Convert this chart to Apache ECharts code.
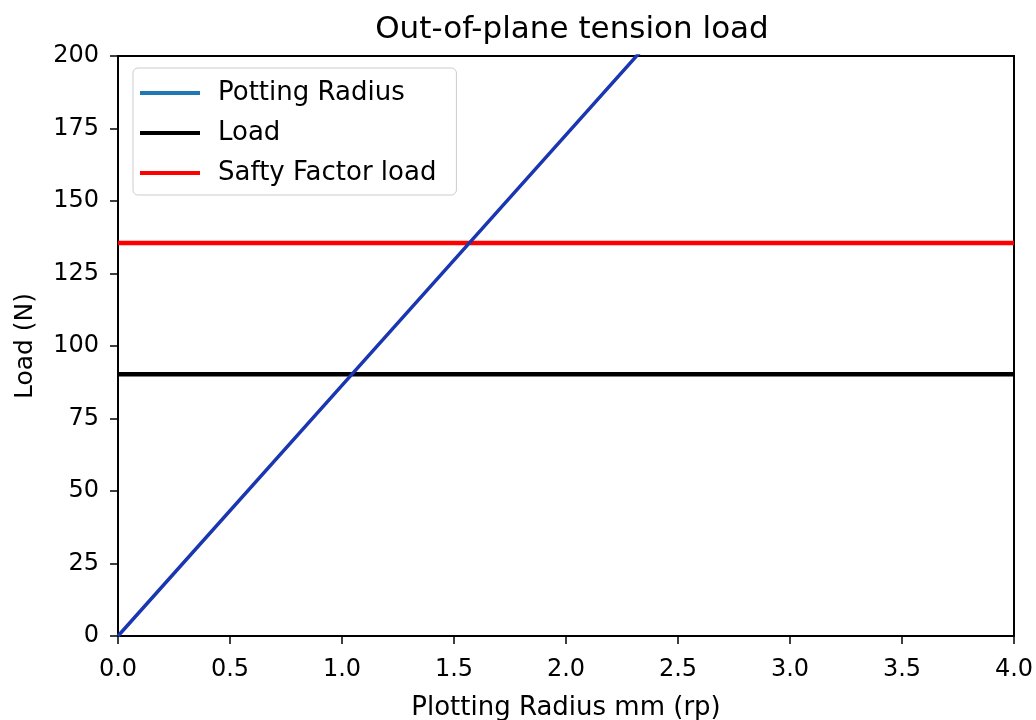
<!DOCTYPE html>
<html>
<head>
<meta charset="utf-8">
<script src="https://cdn.jsdelivr.net/npm/echarts@6/dist/echarts.min.js"></script>
<style>html,body{margin:0;padding:0;background:#fff;}#chart{width:1036px;height:720px;}</style>
</head>
<body>
<div id="chart"></div>
<script>
// Data
const radius = [0, 1, 2, 3, 4];                    // mm
const pottingLoad = [0, 86.4, 172.8, 259.2, 345.6]; // N
const loadX = [0, 4];
const loadValue = [90.3, 90.3];
const sfLoadValue = [135.5, 135.5];
const seriesNames = ['Potting Radius', 'Load', 'Safty Factor load'];

const FONT = '"DejaVu Sans", sans-serif';
const zip = (xs, ys) => xs.map((x, i) => [x, ys[i]]);

const chart = echarts.init(document.getElementById('chart'));
chart.setOption({
  animation: false,
  backgroundColor: '#fff',
  title: {
    text: 'Out-of-plane tension load',
    left: 567, textAlign: 'center', top: 9,
    textStyle: { fontFamily: FONT, fontSize: 31, fontWeight: 'normal', color: '#000' }
  },
  grid: {
    left: 118, right: 22, top: 56, bottom: 84,
    containLabel: false, outerBoundsMode: 'none',
    show: true, borderColor: '#000', borderWidth: 2, backgroundColor: '#fff'
  },
  legend: {
    orient: 'vertical', left: 133, top: 68,
    padding: [11, 20, 8, 7],
    backgroundColor: '#fff', borderColor: '#ccc', borderWidth: 1, borderRadius: 5,
    itemWidth: 60, itemHeight: 4, itemGap: 12,
    icon: 'rect',
    textStyle: { fontFamily: FONT, fontSize: 26, color: '#000', lineHeight: 28, padding: [0, 0, 0, 13] },
    data: [
      { name: seriesNames[0], itemStyle: { color: '#1f77b4' } },
      { name: seriesNames[1], itemStyle: { color: '#000' } },
      { name: seriesNames[2], itemStyle: { color: '#ff0000' } }
    ]
  },
  xAxis: {
    type: 'value', min: 0, max: 4, interval: 0.5,
    name: 'Plotting Radius mm (rp)', nameLocation: 'middle', nameGap: 59,
    nameTextStyle: { fontFamily: FONT, fontSize: 26, color: '#000' },
    axisLine: { show: true, onZero: false, lineStyle: { color: '#000', width: 2 } },
    axisTick: { show: true, length: 8, lineStyle: { color: '#000', width: 1.5 } },
    axisLabel: { fontFamily: FONT, fontSize: 24, color: '#000', margin: 22,
      formatter: v => v.toFixed(1) },
    splitLine: { show: false }
  },
  yAxis: {
    type: 'value', min: 0, max: 200, interval: 25,
    name: 'Load (N)', nameLocation: 'middle', nameGap: 80,
    nameTextStyle: { fontFamily: FONT, fontSize: 25, color: '#000' },
    axisLine: { show: true, onZero: false, lineStyle: { color: '#000', width: 2 } },
    axisTick: { show: true, length: 8, lineStyle: { color: '#000', width: 1.5 } },
    axisLabel: { fontFamily: FONT, fontSize: 24, color: '#000', margin: 19 },
    splitLine: { show: false }
  },
  series: [
    { name: seriesNames[0], type: 'line', data: zip(radius, pottingLoad), showSymbol: false,
      clip: true, lineStyle: { color: '#1a36b0', width: 3.5 }, itemStyle: { color: '#1f77b4' }, z: 4 },
    { name: seriesNames[1], type: 'line', data: zip(loadX, loadValue), showSymbol: false,
      lineStyle: { color: '#000', width: 4.5 }, itemStyle: { color: '#000' }, z: 3 },
    { name: seriesNames[2], type: 'line', data: zip(loadX, sfLoadValue), showSymbol: false,
      lineStyle: { color: '#ff0000', width: 4.5 }, itemStyle: { color: '#ff0000' }, z: 3 }
  ]
});
</script>
</body>
</html>
